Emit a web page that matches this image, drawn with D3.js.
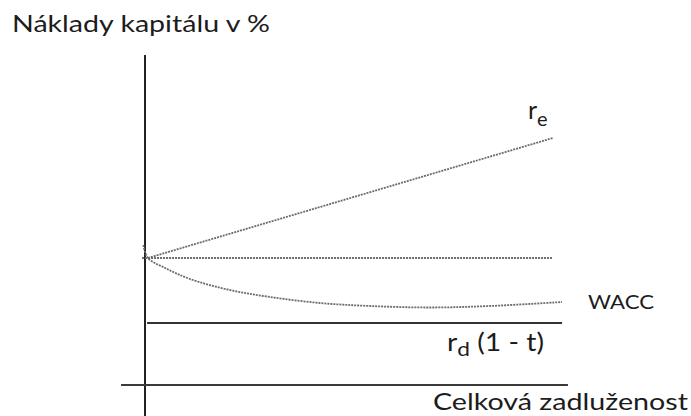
<!DOCTYPE html>
<html>
<head>
<meta charset="utf-8">
<script src="https://cdn.jsdelivr.net/npm/d3@7"></script>
<style>
  html, body { margin: 0; padding: 0; background: #fff; }
  svg { display: block; }
  text { font-family: Lato, "Open Sans", sans-serif; fill: #1c1c1c; }
</style>
</head>
<body>
<div id="chart"></div>
<script>
// Cost of capital vs. total leverage (schematic). Units are arbitrary.

// x = celková zadluženost (0..100), y = náklady kapitálu (0..33)
const axisDebt = [-5.7, 100.7];     // horizontal axis extent
const axisCost = [-3.1, 33];        // vertical axis extent

const reDebt = [0.7, 97.1];
const reCost = [12.7, 24.7];

const flatDebt = [-0.7, 96.9];
const flatCost = [12.7, 12.7];

const rdDebt = [0.5, 99.3];
const rdCost = [6.2, 6.2];

const waccDebt = [-0.4, 0.7, 4.8, 10.7, 20.2, 29.8, 41.7, 53.6, 67.9, 82.1, 99.3];
const waccCost = [14.0, 12.7, 11.7, 10.6, 9.5, 8.8, 8.2, 7.9, 7.75, 7.9, 8.3];

const W = 691, H = 416;

const svg = d3.select('#chart').append('svg')
  .attr('width', W).attr('height', H)
  .attr('viewBox', `0 0 ${W} ${H}`);

const x = d3.scaleLinear().domain([0, 100]).range([145, 565]);
const y = d3.scaleLinear().domain([0, 33]).range([385, 55]);

const zip = (xs, ys) => xs.map((v, i) => [v, ys[i]]);
const line = d3.line().x(d => x(d[0])).y(d => y(d[1]));

// axes (plain lines, no ticks)
svg.append('line')
  .attr('x1', x(0)).attr('x2', x(0))
  .attr('y1', y(axisCost[1])).attr('y2', y(axisCost[0]))
  .attr('stroke', '#222').attr('stroke-width', 2);

svg.append('line')
  .attr('x1', x(axisDebt[0])).attr('x2', x(axisDebt[1]))
  .attr('y1', y(0)).attr('y2', y(0))
  .attr('stroke', '#3a3a3a').attr('stroke-width', 1.8);

// r_d (1 - t) — solid
svg.append('path')
  .attr('d', line(zip(rdDebt, rdCost)))
  .attr('fill', 'none').attr('stroke', '#333').attr('stroke-width', 2);

// dotted curves
const dotted = g => g.attr('fill', 'none')
  .attr('stroke', '#6c6c6c').attr('stroke-width', 1.8)
  .attr('stroke-dasharray', '2,1');

svg.append('path').attr('d', line(zip(reDebt, reCost))).call(dotted);
svg.append('path').attr('d', line(zip(flatDebt, flatCost))).call(dotted);
svg.append('path')
  .attr('d', line.curve(d3.curveCatmullRom)(zip(waccDebt, waccCost)))
  .call(dotted);

// labels
svg.append('text')
  .attr('x', 12).attr('y', 32)
  .attr('font-size', 23)
  .attr('textLength', 258).attr('lengthAdjust', 'spacingAndGlyphs')
  .text('Náklady kapitálu v %');

svg.append('text')
  .attr('x', 433).attr('y', 410)
  .attr('font-size', 23)
  .attr('textLength', 255).attr('lengthAdjust', 'spacingAndGlyphs')
  .text('Celková zadluženost');

svg.append('text')
  .attr('x', 588).attr('y', 309)
  .attr('font-size', 20)
  .attr('textLength', 66).attr('lengthAdjust', 'spacingAndGlyphs')
  .text('WACC');

const re = svg.append('text').attr('x', 528).attr('y', 119).attr('font-size', 25);
re.append('tspan').text('r');
re.append('tspan').attr('font-size', 20).attr('dy', 7).text('e');

const rd = svg.append('text').attr('x', 447).attr('y', 351).attr('font-size', 25)
  .attr('textLength', 97).attr('lengthAdjust', 'spacingAndGlyphs');
rd.append('tspan').text('r');
rd.append('tspan').attr('font-size', 20).attr('dy', 5).text('d');
rd.append('tspan').attr('dy', -5).text(' (1 - t)');
</script>
</body>
</html>
